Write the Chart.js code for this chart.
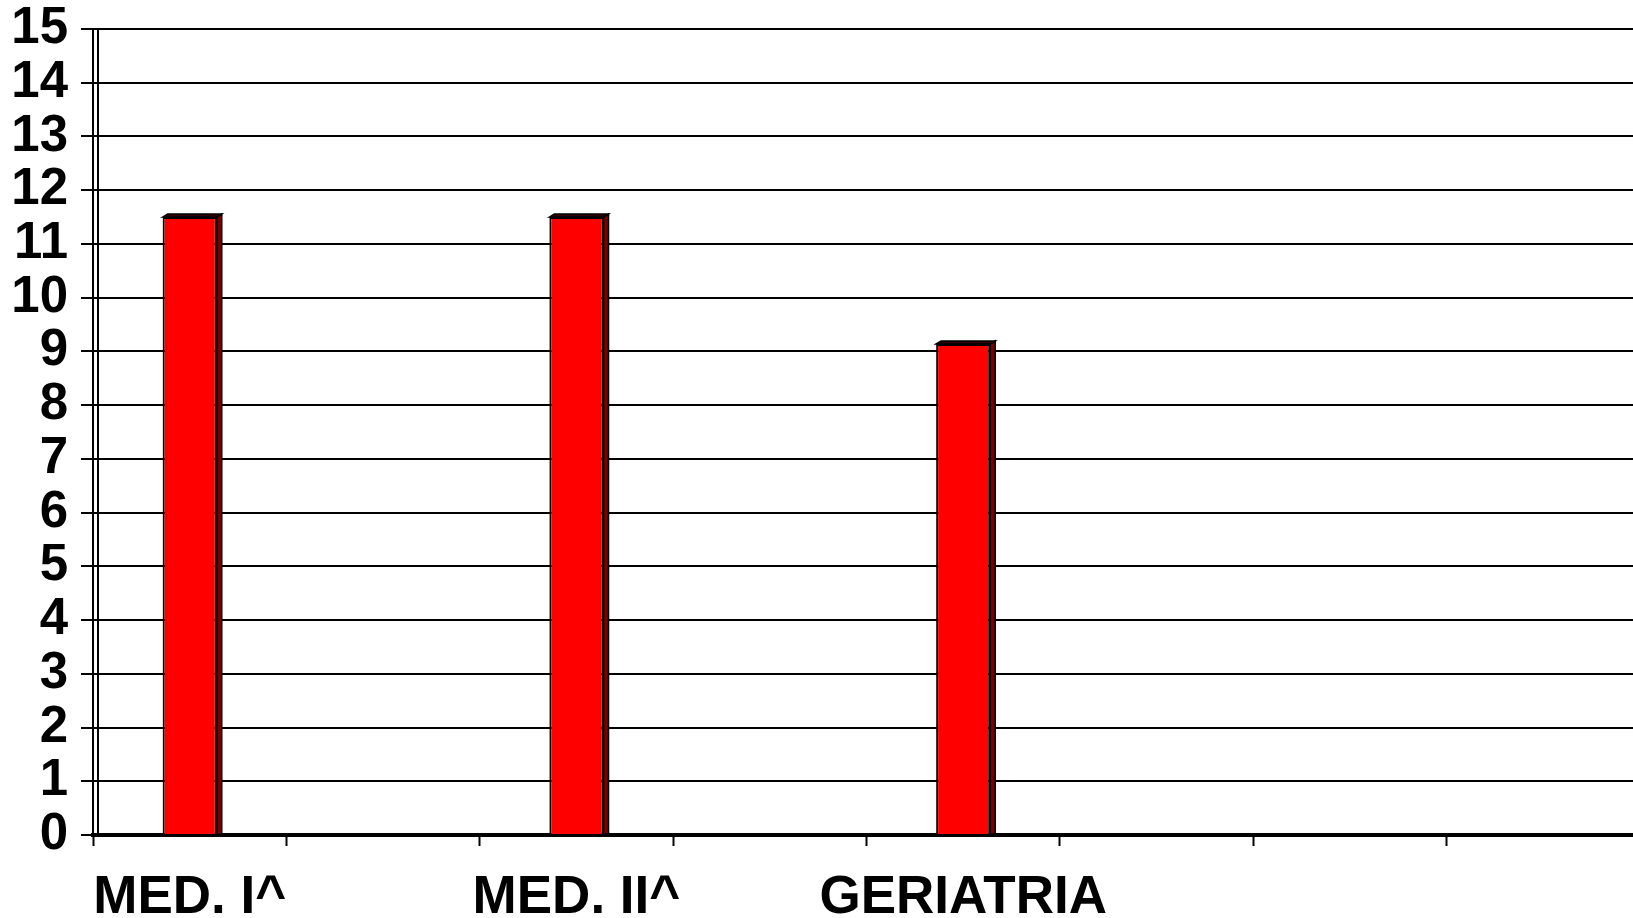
<!DOCTYPE html>
<html>
<head>
<meta charset="utf-8">
<script src="https://cdn.jsdelivr.net/npm/chart.js@4/dist/chart.umd.min.js"></script>
<style>
  html, body { margin: 0; padding: 0; background: #fff; overflow: hidden; }
  #wrap { width: 1633px; height: 918px; overflow: hidden; position: relative; }
  #c { position: absolute; left: 0; top: 0; }
</style>
</head>
<body>
<div id="wrap"><canvas id="c" width="1660" height="918"></canvas></div>
<script>
// Wards on the category axis (every other slot is unlabeled)
const categories = ["MED. I^", "", "MED. II^", "", "GERIATRIA", "", "", ""];
// Values per ward
const values = [11.5, null, 11.5, null, 9.14, null, null, null];
// Value axis range and step
const yMin = 0;
const yMax = 15;
const yStep = 1;

const FONT = "'Liberation Sans', Arial, Helvetica, sans-serif";

// Gives each bar a shallow extruded look: a dark right side and top face
const barDepth = {
  id: 'barDepth',
  afterDatasetsDraw(chart) {
    const ctx = chart.ctx;
    const meta = chart.getDatasetMeta(0);
    const dx = 5, dy = 3;
    meta.data.forEach((bar, i) => {
      if (values[i] == null) return;
      const p = bar.getProps(['x', 'y', 'base', 'width'], true);
      const l = p.x - p.width / 2, r = p.x + p.width / 2;
      ctx.save();
      ctx.lineWidth = 1.5;
      ctx.strokeStyle = '#000';
      ctx.lineJoin = 'miter';
      // side face
      ctx.beginPath();
      ctx.moveTo(r, p.y);
      ctx.lineTo(r + dx, p.y - dy);
      ctx.lineTo(r + dx, p.base);
      ctx.lineTo(r, p.base);
      ctx.closePath();
      ctx.fillStyle = '#7a0000';
      ctx.fill();
      ctx.stroke();
      // top face
      ctx.beginPath();
      ctx.moveTo(l, p.y);
      ctx.lineTo(l + dx, p.y - dy);
      ctx.lineTo(r + dx, p.y - dy);
      ctx.lineTo(r, p.y);
      ctx.closePath();
      ctx.fillStyle = '#300000';
      ctx.fill();
      ctx.stroke();
      ctx.restore();
    });
  }
};

// Back wall edge just right of the value axis
const wallEdge = {
  id: 'wallEdge',
  beforeDatasetsDraw(chart) {
    const { ctx, chartArea } = chart;
    ctx.save();
    ctx.strokeStyle = '#000';
    ctx.lineWidth = 2;
    ctx.beginPath();
    ctx.moveTo(chartArea.left + 5, chartArea.top);
    ctx.lineTo(chartArea.left + 5, chartArea.bottom);
    ctx.stroke();
    ctx.restore();
  }
};

new Chart(document.getElementById('c'), {
  type: 'bar',
  data: {
    labels: categories,
    datasets: [{
      data: values,
      backgroundColor: '#ff0000',
      borderColor: '#000000',
      borderWidth: 2,
      borderSkipped: 'bottom',
      categoryPercentage: 1.0,
      barPercentage: 0.28
    }]
  },
  options: {
    responsive: false,
    animation: false,
    layout: { padding: { top: 29, right: 20, left: 0, bottom: 0 } },
    plugins: {
      legend: { display: false },
      tooltip: { enabled: false }
    },
    scales: {
      x: {
        offset: true,
        grid: {
          offset: true,
          drawOnChartArea: false,
          drawTicks: true,
          tickLength: 11,
          tickWidth: 2,
          tickColor: '#000'
        },
        border: { display: true, color: '#000', width: 4 },
        ticks: {
          autoSkip: false,
          maxRotation: 0,
          minRotation: 0,
          padding: 21,
          color: '#000',
          font: { family: FONT, size: 53, weight: 'bold' }
        },
        afterFit(scale) {
          scale.height = 83;
          scale.paddingLeft = 0;
          scale.paddingRight = 0;
        }
      },
      y: {
        min: yMin,
        max: yMax,
        grid: {
          color: '#000',
          lineWidth: 2,
          drawTicks: true,
          tickLength: 12,
          tickColor: '#000',
          tickWidth: 2
        },
        border: { display: true, color: '#000', width: 2 },
        ticks: {
          stepSize: yStep,
          autoSkip: false,
          padding: 13,
          color: '#000',
          font: { family: FONT, size: 51, weight: 'bold' }
        },
        afterFit(scale) {
          scale.width = 93;
          scale.paddingTop = 0;
          scale.paddingBottom = 0;
        }
      }
    }
  },
  plugins: [wallEdge, barDepth]
});
</script>
</body>
</html>
